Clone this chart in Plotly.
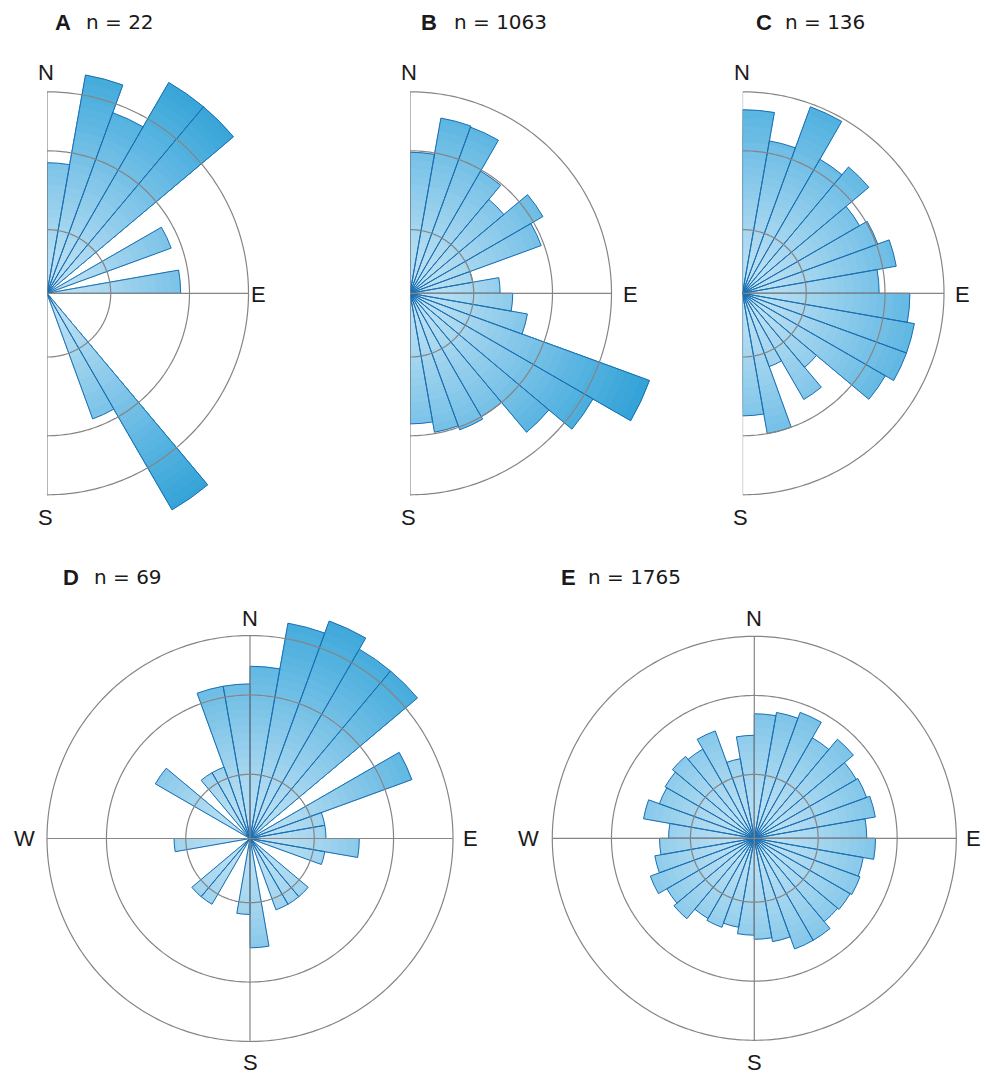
import numpy as np
import plotly.graph_objects as go

W, H = 988, 1075

# ---------------- data (percent of observations per 10-degree bin) ----------------
bin_width = 10
theta_half = list(range(5, 180, 10))      # bin centres, N -> E -> S
theta_full = list(range(5, 360, 10))      # bin centres, full circle

pct_A = [4.2, 12.1, 9.1, 14.6, 14.6, 0, 4.3, 0, 4.4, 0, 0, 0, 0, 0, 15.4, 4.4, 0, 0]
pct_B = [4.9, 7.8, 7.7, 4.9, 3.7, 5.8, 4.8, 1.0, 2.0, 2.6, 3.5, 16.0, 11.0, 8.1, 5.0, 5.2, 4.9, 4.2]
pct_C = [8.3, 5.9, 9.7, 5.9, 6.7, 4.5, 5.1, 6.0, 4.6, 6.9, 7.5, 7.5, 6.7, 2.3, 3.7, 1.5, 5.0, 3.7]
pct_D = [7.2, 11.6, 13.0, 11.6, 11.6, 0, 7.2, 1.4, 1.4, 2.9, 1.4, 0, 0, 1.4, 1.4, 1.4, 0, 2.9,
         1.4, 0, 0, 1.4, 1.4, 0, 0, 0, 1.4, 0, 0, 0, 2.9, 0, 1.4, 1.4, 5.8, 5.8]
pct_E = [3.8, 4.0, 4.4, 3.3, 4.1, 3.4, 3.5, 3.7, 3.1, 3.6, 3.0, 3.1, 3.0, 2.9, 3.4, 3.4, 2.7, 2.5,
         2.3, 2.0, 2.2, 2.1, 2.7, 2.5, 3.0, 2.5, 2.2, 1.8, 3.1, 2.5, 2.6, 2.8, 2.6, 3.2, 1.6, 2.6]

ring_pct = [1, 5, 10]          # reference circles (percent)
n_labels = ["22", "1063", "136", "69", "1765"]
letters = ["A", "B", "C", "D", "E"]


def to_r(p):
    # equal-area rose: radius proportional to sqrt of frequency, outer circle = 10 %
    return float(np.sqrt(p / 10.0))


# gradient stops (radius -> colour)
stops = [(0.0, (196, 229, 245)), (0.3, (168, 215, 239)), (0.6, (130, 198, 233)),
         (0.9, (90, 181, 225)), (1.3, (46, 160, 214))]


def grad(r):
    r = max(0.0, min(r, stops[-1][0]))
    for (r0, c0), (r1, c1) in zip(stops[:-1], stops[1:]):
        if r0 <= r <= r1:
            t = (r - r0) / (r1 - r0)
            c = [round(a + (b - a) * t) for a, b in zip(c0, c1)]
            return "rgb(%d,%d,%d)" % tuple(c)
    return "rgb(%d,%d,%d)" % stops[-1][1]


panels = [
    dict(vals=pct_A, full=False, cx=47.0, cy=293.3, R=201.5, rmax=1.30),
    dict(vals=pct_B, full=False, cx=410.0, cy=293.3, R=201.5, rmax=1.30),
    dict(vals=pct_C, full=False, cx=742.5, cy=293.3, R=201.5, rmax=1.03),
    dict(vals=pct_D, full=True, cx=250.0, cy=838.5, R=203.0, rmax=1.16),
    dict(vals=pct_E, full=True, cx=754.3, cy=838.3, R=202.0, rmax=1.03),
]

fig = go.Figure()
layout_updates = {}
edge_col = "#1b6fb2"
grid_col = "#858585"

for i, p in enumerate(panels):
    sp = "polar" if i == 0 else "polar%d" % (i + 1)
    theta = theta_full if p["full"] else theta_half
    radii = [to_r(v) for v in p["vals"]]

    # gradient fill: overlays from outside to inside
    d = 0.04
    levels = np.arange(p["rmax"], 0, -d)
    for L in levels:
        rs = [min(r, L) if r > L - d else 0 for r in radii]
        if max(rs) <= 0:
            continue
        c = grad(L - d / 2)
        fig.add_trace(go.Barpolar(
            r=rs, theta=theta, width=[bin_width] * len(theta), subplot=sp,
            marker=dict(color=c, line=dict(color=c, width=0.3)),
            showlegend=False, hoverinfo="skip"))
    # outlines
    fig.add_trace(go.Barpolar(
        r=radii, theta=theta, width=[bin_width] * len(theta), subplot=sp,
        marker=dict(color="rgba(0,0,0,0)", line=dict(color=edge_col, width=1)),
        showlegend=False, hoverinfo="skip"))

    # reference circles
    th = np.linspace(0, 360, 361) if p["full"] else np.linspace(0, 180, 181)
    for rp in ring_pct:
        fig.add_trace(go.Scatterpolar(
            r=[to_r(rp)] * len(th), theta=th, mode="lines", subplot=sp,
            line=dict(color=grid_col, width=1.2), showlegend=False, hoverinfo="skip"))
    # axes lines
    fig.add_trace(go.Scatterpolar(r=[1, 0, 1], theta=[0, 0, 180], mode="lines", subplot=sp,
                                  line=dict(color=grid_col, width=1.2), showlegend=False,
                                  hoverinfo="skip"))
    if p["full"]:
        fig.add_trace(go.Scatterpolar(r=[1, 0, 1], theta=[90, 90, 270], mode="lines", subplot=sp,
                                      line=dict(color=grid_col, width=1.2), showlegend=False,
                                      hoverinfo="skip"))
    else:
        fig.add_trace(go.Scatterpolar(r=[0, 1], theta=[90, 90], mode="lines", subplot=sp,
                                      line=dict(color=grid_col, width=1.2), showlegend=False,
                                      hoverinfo="skip"))

    Rout = p["R"] * p["rmax"]
    if p["full"]:
        x0, x1 = p["cx"] - Rout, p["cx"] + Rout
    else:
        x0, x1 = p["cx"], p["cx"] + Rout
    y0, y1 = p["cy"] - Rout, p["cy"] + Rout
    layout_updates[sp] = dict(
        domain=dict(x=[x0 / W, x1 / W], y=[1 - y1 / H, 1 - y0 / H]),
        sector=[0, 360] if p["full"] else [-90, 90],
        bgcolor="rgba(0,0,0,0)",
        barmode="overlay",
        radialaxis=dict(range=[0, p["rmax"]], visible=False),
        angularaxis=dict(rotation=90, direction="clockwise", visible=False),
    )

fig.update_layout(**layout_updates)

ann = []
txt_col = "#1a1a1a"


def add_text(x, y, text, size, xanchor="center", family="Arial"):
    ann.append(dict(x=x / W, y=1 - y / H, xref="paper", yref="paper", text=text,
                    showarrow=False, xanchor=xanchor, yanchor="middle", borderpad=0,
                    font=dict(family=family, size=size, color=txt_col)))


# panel titles
title_pos = [(54, 22, 85), (420, 22, 453), (755, 22, 784), (62, 577, 93), (560, 577, 587)]
for (lx, ty, nx), L, nl in zip(title_pos, letters, n_labels):
    add_text(lx, ty, "<b>%s</b>" % L, 22, xanchor="left", family="Arial")
    add_text(nx, ty, "n = %s" % nl, 20, xanchor="left", family="DejaVu Sans")

# compass labels
for p in panels[:3]:
    add_text(p["cx"] - 1, 73, "N", 22)
    add_text(p["cx"] - 2, 518, "S", 22)
add_text(258, 294, "E", 22)
add_text(630, 294, "E", 22)
add_text(962, 294, "E", 22)
for p, wx, ex in [(panels[3], 24, 470), (panels[4], 528, 973)]:
    add_text(p["cx"], 618, "N", 22)
    add_text(p["cx"], 1062, "S", 22)
    add_text(wx, 838, "W", 22)
    add_text(ex, 838, "E", 22)

fig.update_layout(width=W, height=H, margin=dict(l=0, r=0, t=0, b=0),
                  paper_bgcolor="white", plot_bgcolor="white", annotations=ann,
                  showlegend=False)

fig.write_html("out.html", config={"displayModeBar": False},
               post_script="document.body.style.margin='0px';")
